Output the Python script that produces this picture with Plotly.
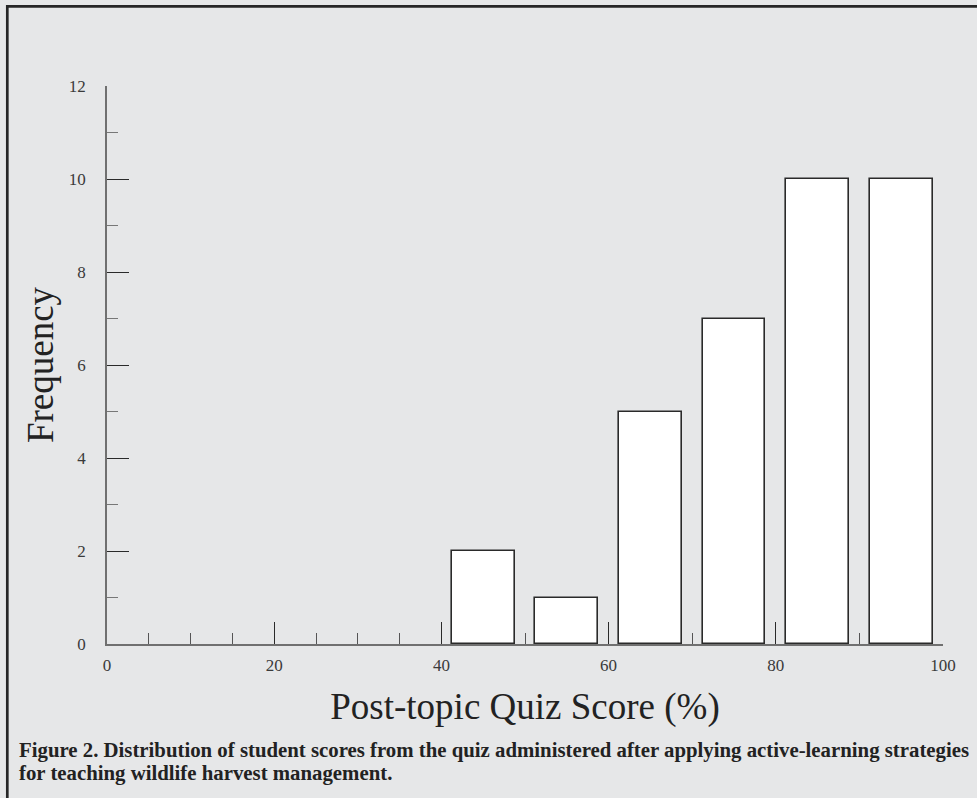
import plotly.graph_objects as go

# Score bins (% correct) and number of students in each
bin_centers = [45, 55, 65, 75, 85, 95]
frequencies = [2, 1, 5, 7, 10, 10]
bar_width = 7.5

y_ticks = [0, 2, 4, 6, 8, 10, 12]
x_ticks = [0, 20, 40, 60, 80, 100]

caption_lines = [
    "Figure 2. Distribution of student scores from the quiz administered after applying active-learning strategies",
    "for teaching wildlife harvest management.",
]

BG = "#e6e7e8"
SERIF = "Liberation Serif, Times New Roman, serif"

fig = go.Figure()
fig.add_trace(go.Bar(
    x=bin_centers, y=frequencies, width=bar_width,
    marker=dict(color="white", line=dict(color="#2a2a2a", width=1.6)),
    hoverinfo="x+y",
))

W, H = 977, 798
L, R, T, B = 107, 34, 86, 154
pw, ph = W - L - R, H - T - B

def px_x(p):
    return (p - L) / pw

def px_y(p):
    return (H - B - p) / ph

axis_common = dict(
    showgrid=False, zeroline=False, layer="below traces",
    showline=True, linecolor="#707070", linewidth=1.6,
    ticks="inside", ticklen=22, tickwidth=1.2, tickcolor="#2a2a2a",
    tickfont=dict(size=17, family=SERIF, color="#3a3a3a"),
)

fig.update_layout(
    width=W, height=H,
    margin=dict(l=L, r=R, t=T, b=B, pad=0),
    paper_bgcolor=BG, plot_bgcolor=BG,
    showlegend=False,
    bargap=0,
    font=dict(family=SERIF, color="#333333"),
    xaxis=dict(
        range=[0, 100], tickvals=x_ticks,
        minor=dict(dtick=5, ticks="inside", ticklen=11, tickwidth=1.2, tickcolor="#555555"),
        ticklabelstandoff=5,
        title=dict(text="Post-topic Quiz Score (%)", font=dict(size=37, family=SERIF, color="#222222"), standoff=19),
        **axis_common,
    ),
    yaxis=dict(
        range=[0, 12], tickvals=y_ticks,
        minor=dict(dtick=1, ticks="inside", ticklen=11, tickwidth=1.2, tickcolor="#777777"),
        ticklabelstandoff=16,
        title=dict(text="Frequency", font=dict(size=37, family=SERIF, color="#222222"), standoff=4),
        **axis_common,
    ),
    annotations=[
        dict(text="<b>%s</b>" % line, xref="paper", yref="paper",
             x=px_x(17), y=px_y(yc), xanchor="left", yanchor="middle", align="left",
             showarrow=False, font=dict(size=20.8, family=SERIF, color="#222222"))
        for line, yc in zip(caption_lines, [750, 773])
    ],
    shapes=[
        dict(type="line", xref="paper", yref="paper", x0=px_x(7.3), x1=px_x(7.3), y0=px_y(5), y1=px_y(800),
             line=dict(color="#262626", width=2.7)),
        dict(type="line", xref="paper", yref="paper", x0=px_x(6), x1=px_x(980), y0=px_y(6.3), y1=px_y(6.3),
             line=dict(color="#262626", width=2.7)),
    ],
)

fig.write_html("out.html")
